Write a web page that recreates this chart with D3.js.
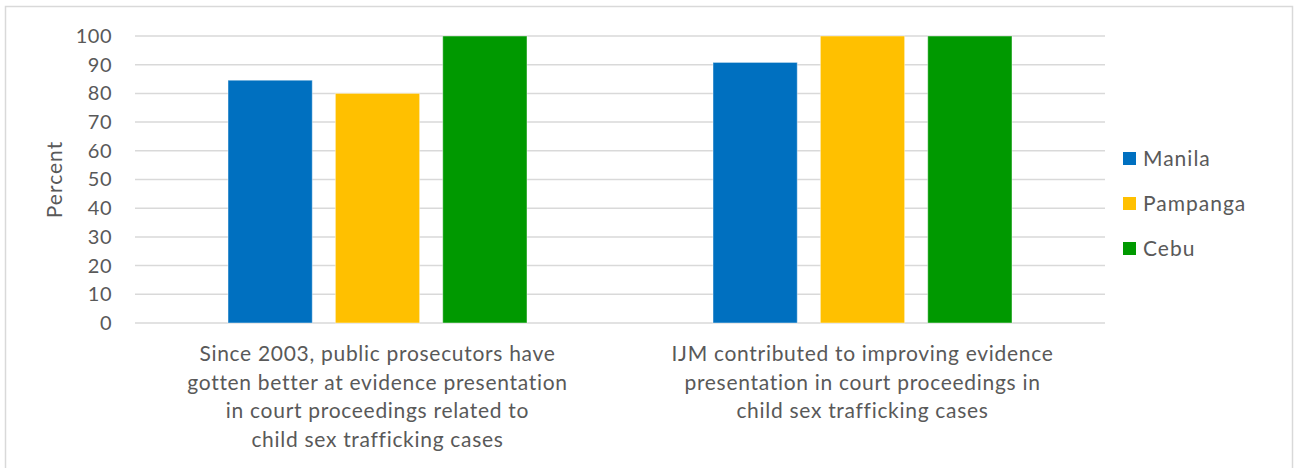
<!DOCTYPE html>
<html>
<head>
<meta charset="utf-8">
<script src="https://cdn.jsdelivr.net/npm/d3@7"></script>
<style>
  html, body { margin: 0; padding: 0; background: #fff; }
  svg { display: block; font-family: Lato, "Open Sans", sans-serif; }
</style>
</head>
<body>
<svg id="chart" width="1294" height="468"></svg>
<script>
// Survey statements (x categories), one line per array entry
const categories = [
  ["Since 2003, public prosecutors have", "gotten better at evidence presentation", "in court proceedings related to", "child sex trafficking cases"],
  ["IJM contributed to improving evidence", "presentation in court proceedings in", "child sex trafficking cases"]
];
const sites = ["Manila", "Pampanga", "Cebu"];
const manila = [84.6, 90.8];
const pampanga = [80, 100];
const cebu = [100, 100];
const yTicks = [0, 10, 20, 30, 40, 50, 60, 70, 80, 90, 100];
const colors = ["#0070C0", "#FFC000", "#009900"];

const seriesValues = [manila, pampanga, cebu];
const svg = d3.select("#chart");

// outer chart frame
svg.append("rect")
  .attr("x", 5.5).attr("y", 6.5)
  .attr("width", 1287).attr("height", 470)
  .attr("fill", "#fff").attr("stroke", "#d9d9d9").attr("stroke-width", 1.5);

const plot = { left: 135, right: 1105, top: 36, bottom: 323 };

const catKeys = categories.map((d, i) => i);
const x0 = d3.scaleBand().domain(catKeys).range([plot.left, plot.right]).padding(0);
const groupWidth = 299;
const x1 = d3.scaleBand().domain(sites)
  .range([(x0.bandwidth() - groupWidth) / 2, (x0.bandwidth() + groupWidth) / 2])
  .paddingInner(0.215).paddingOuter(0);
const y = d3.scaleLinear().domain([0, 100]).range([plot.bottom, plot.top]);

// horizontal gridlines
svg.append("g")
  .selectAll("line")
  .data(yTicks)
  .join("line")
  .attr("x1", plot.left).attr("x2", plot.right)
  .attr("y1", d => y(d)).attr("y2", d => y(d))
  .attr("stroke", "#d9d9d9").attr("stroke-width", 1.5);

// y axis labels
const yAxis = d3.axisLeft(y).tickValues(yTicks).tickSize(0).tickPadding(0);
const gy = svg.append("g").attr("transform", `translate(${plot.left - 23},0)`).call(yAxis);
gy.select(".domain").remove();
gy.selectAll("text")
  .attr("fill", "#595959")
  .style("font-size", "20px")
  .style("letter-spacing", "0.5px")
  .style("font-family", "Lato, 'Open Sans', sans-serif");

// y axis title
svg.append("text")
  .attr("transform", `translate(62,${(plot.top + plot.bottom) / 2}) rotate(-90)`)
  .attr("text-anchor", "middle")
  .attr("fill", "#595959")
  .style("font-size", "21px")
  .style("letter-spacing", "1px")
  .text("Percent");

// bars
const groups = svg.append("g")
  .selectAll("g")
  .data(catKeys)
  .join("g")
  .attr("transform", d => `translate(${x0(d)},0)`);

groups.selectAll("rect")
  .data(ci => sites.map((s, si) => ({ site: s, value: seriesValues[si][ci], color: colors[si] })))
  .join("rect")
  .attr("x", d => x1(d.site))
  .attr("width", x1.bandwidth())
  .attr("y", d => y(d.value))
  .attr("height", d => y(0) - y(d.value))
  .attr("fill", d => d.color)
  .attr("stroke", "#ffffff").attr("stroke-opacity", 0.45).attr("stroke-width", 1);

// category labels
const catLabels = svg.append("g")
  .selectAll("text")
  .data(catKeys)
  .join("text")
  .attr("x", d => x0(d) + x0.bandwidth() / 2)
  .attr("y", 361)
  .attr("text-anchor", "middle")
  .attr("fill", "#595959")
  .style("font-size", "21px")
  .style("letter-spacing", "0.7px");
catLabels.selectAll("tspan")
  .data(d => categories[d])
  .join("tspan")
  .attr("x", function () { return d3.select(this.parentNode).attr("x"); })
  .attr("dy", (d, i) => i === 0 ? 0 : 28.5)
  .text(d => d);

// legend
const legend = svg.append("g")
  .selectAll("g")
  .data(sites)
  .join("g")
  .attr("transform", (d, i) => `translate(1123,${152 + i * 45})`);
legend.append("rect")
  .attr("width", 13).attr("height", 13)
  .attr("fill", (d, i) => colors[i]);
legend.append("text")
  .attr("x", 20).attr("y", 13.5)
  .attr("fill", "#595959")
  .style("font-size", "21px")
  .style("letter-spacing", "1px")
  .text(d => d);
</script>
</body>
</html>
